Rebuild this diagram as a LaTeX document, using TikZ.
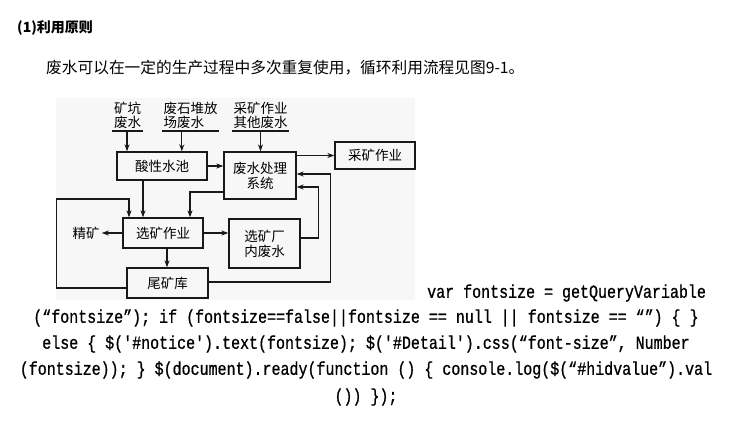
\documentclass[tikz,border=0pt]{standalone}
\usepackage{fontspec}
\setmainfont{Liberation Serif}
\newfontfamily\cjk{Noto Sans CJK SC}
\newfontfamily\codefont[FakeStretch=0.81,FakeBold=0.8]{Liberation Mono}
\usetikzlibrary{arrows.meta}
\tikzset{
  bx/.style={draw=black!90, line width=1.3pt, inner sep=0pt, align=center,
    font=\cjk\fontsize{13.5}{15}\selectfont},
  src/.style={inner xsep=1.5pt, inner ysep=2pt, anchor=south,
    font=\cjk\fontsize{13.5}{14.5}\selectfont},
  uline/.style={draw=black!90, line width=1.3pt},
  arr/.style={draw=black!90, line width=1.2pt, -{Stealth[length=7pt,width=5pt]}},
  codeline/.style={inner sep=0pt, font=\codefont\fontsize{18.5}{20}\selectfont},
}
\begin{document}
\begin{tikzpicture}[x=1pt,y=-1pt]
\useasboundingbox (0,0) rectangle (730,446);
\fill[white] (0,0) rectangle (730,446);
% figure background
\fill[black!3] (56,98) rectangle (415,300);

% heading and body text
\node[anchor=west, inner sep=0pt, font=\cjk\bfseries\fontsize{14}{16}\selectfont] (head) at (17,28) {(1)利用原则};
\node[anchor=west, inner sep=0pt, font=\cjk\fontsize{15.7}{18}\selectfont] (body) at (46,68) {废水可以在一定的生产过程中多次重复使用，循环利用流程见图9-1。};

% source labels
\node[src, align=center] (s1) at (127.5,131) {矿坑\\废水};
\node[src, align=left] (s2) at (190.5,131) {废石堆放\\场废水};
\node[src, align=center] (s3) at (260.5,131) {采矿作业\\其他废水};
\path[uline] (s1.south west) -- (s1.south east);
\path[uline] (s2.south west) -- (s2.south east);
\path[uline] (s3.south west) -- (s3.south east);

% boxes
\node[bx, minimum width=90pt, minimum height=28pt] (sx) at (162,166) {酸性水池};
\node[bx, minimum width=72pt, minimum height=47pt] (fs) at (260,175.5) {废水处理\\系统};
\node[bx, minimum width=80pt, minimum height=27pt] (ck) at (375,155.5) {采矿作业};
\node[bx, minimum width=80pt, minimum height=30pt] (xk) at (163,233) {选矿作业};
\node[bx, minimum width=71pt, minimum height=49pt] (xkc) at (264.5,243.5) {选矿厂\\内废水};
\node[bx, minimum width=81pt, minimum height=30pt] (wk) at (167.5,283) {尾矿库};
\node[inner sep=2pt, font=\cjk\fontsize{13.5}{15}\selectfont] (jk) at (86,233) {精矿};

% connectors
\draw[arr] ([xshift=-0.5pt]s1.south) -- ([xshift=-0.5pt]s1.south |- sx.north);
\draw[arr] ([xshift=20pt]s2.south west) -- ([xshift=20pt]s2.south west |- sx.north);
\draw[arr] (s3.south) -- (s3.south |- fs.north);
\draw[arr] (sx.east) -- (sx.east -| fs.west);
\draw[arr] (ck.west -| fs.east) -- (ck.west);
\draw[arr] ([xshift=-19pt]sx.south) -- ([xshift=-19pt]sx.south |- xk.north);
\draw[arr] ([yshift=-16.5pt]fs.west) -| ([xshift=27pt]xk.north);
\draw[arr] (xk.west) -- (jk.east);
\draw[arr] (xk.east) -- (xk.east -| xkc.west);
\draw[arr] ([xshift=4pt]xk.south) -- ([xshift=4pt]xk.south |- wk.north);
\draw[arr] ([yshift=5.5pt]xkc.east) -- ++(18,0) |- ([yshift=-11.5pt]fs.east);
\draw[arr] ([yshift=1pt]wk.east) -- ++(122,0) |- ([yshift=1.5pt]fs.east);
\draw[arr] ([yshift=-5pt]wk.west) -- ++(-70,0) -- ++(0,-89) -| ([xshift=-34pt]xk.north);

% code text
\node[codeline, anchor=west] (c1) at (427,293) {var fontsize = getQueryVariable};
\node[codeline] (c2) at (366,318) {(“fontsize”); if (fontsize==false||fontsize == null || fontsize == “”) \{ \}};
\node[codeline] (c3) at (366,344) {else \{ \$('\#notice').text(fontsize); \$('\#Detail').css(“font-size”, Number};
\node[codeline] (c4) at (366,370) {(fontsize)); \} \$(document).ready(function () \{ console.log(\$(“\#hidvalue”).val};
\node[codeline] (c5) at (366,397) {()) \});};
\end{tikzpicture}
\end{document}
